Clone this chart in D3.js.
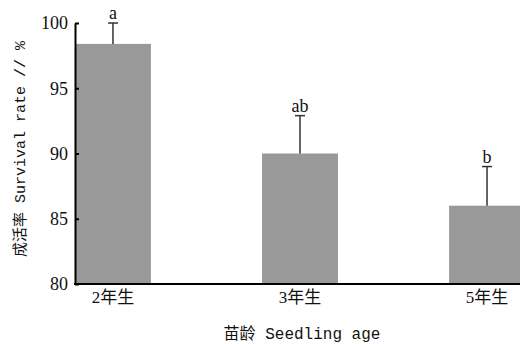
<!DOCTYPE html>
<html>
<head>
<meta charset="utf-8">
<script src="https://cdn.jsdelivr.net/npm/d3@7"></script>
<style>
  body { margin: 0; background: #fff; }
  text { font-family: "Liberation Serif", "Noto Sans CJK SC", serif; fill: #111; }
  .lab { font-family: "Liberation Mono", "Noto Sans CJK SC", monospace; }
</style>
</head>
<body>
<script>
// survival rate by seedling age
var categories = ["2年生", "3年生", "5年生"];
var values = [98.4, 90.0, 86.0];
var errors = [1.6, 2.9, 3.0];
var letters = ["a", "ab", "b"];
var yTicks = [80, 85, 90, 95, 100];

var width = 520, height = 344;

var svg = d3.select("body").append("svg")
    .attr("width", width)
    .attr("height", height);

// scales
var x = d3.scaleBand()
    .domain(categories)
    .range([75, 525])
    .paddingInner(0.594)
    .paddingOuter(0);

var y = d3.scaleLinear()
    .domain([80, 100])
    .range([284, 23]);

// bars
svg.selectAll(".bar")
    .data(values)
    .enter().append("rect")
    .attr("class", "bar")
    .attr("x", function(d, i) { return x(categories[i]); })
    .attr("y", function(d) { return y(d); })
    .attr("width", x.bandwidth())
    .attr("height", function(d) { return y(80) - y(d); })
    .style("fill", "#999999");

// error bars
var eb = svg.selectAll(".err")
    .data(values)
    .enter().append("g")
    .attr("class", "err")
    .style("stroke", "#333")
    .style("stroke-width", 1.5);

eb.append("line")
    .attr("x1", function(d, i) { return x(categories[i]) + x.bandwidth() / 2; })
    .attr("x2", function(d, i) { return x(categories[i]) + x.bandwidth() / 2; })
    .attr("y1", function(d) { return y(d); })
    .attr("y2", function(d, i) { return y(d + errors[i]); });

eb.append("line")
    .attr("x1", function(d, i) { return x(categories[i]) + x.bandwidth() / 2 - 5; })
    .attr("x2", function(d, i) { return x(categories[i]) + x.bandwidth() / 2 + 5; })
    .attr("y1", function(d, i) { return y(d + errors[i]); })
    .attr("y2", function(d, i) { return y(d + errors[i]); });

// significance letters
svg.selectAll(".sig")
    .data(letters)
    .enter().append("text")
    .attr("class", "sig")
    .attr("x", function(d, i) { return x(categories[i]) + x.bandwidth() / 2; })
    .attr("y", function(d, i) { return y(values[i] + errors[i]) - 4; })
    .attr("text-anchor", "middle")
    .style("font-size", "18px")
    .text(function(d) { return d; });

// y axis, ticks pointing inward
var yAxis = svg.append("g")
    .attr("transform", "translate(75,0)")
    .call(d3.axisRight(y).tickValues(yTicks).tickSize(4).tickSizeOuter(0).tickFormat(""));
yAxis.select(".domain").style("stroke", "#000").style("stroke-width", 2);
yAxis.selectAll(".tick line").style("stroke", "#000").style("stroke-width", 2);

svg.selectAll(".ylab")
    .data(yTicks)
    .enter().append("text")
    .attr("class", "ylab")
    .attr("x", 68)
    .attr("y", function(d) { return y(d); })
    .attr("dy", "0.35em")
    .attr("text-anchor", "end")
    .style("font-size", "18px")
    .text(function(d) { return d; });

// x axis
var xAxis = svg.append("g")
    .attr("transform", "translate(0,284)")
    .call(d3.axisBottom(x).tickSize(0).tickPadding(7));
xAxis.select(".domain").attr("d", "M74,0H520").style("stroke", "#000").style("stroke-width", 2);
xAxis.selectAll(".tick text")
    .style("font-family", "'Liberation Serif', 'Noto Sans CJK SC', serif")
    .style("font-size", "17px")
    .style("fill", "#111");

// axis titles
svg.append("text")
    .attr("class", "lab")
    .attr("x", 302)
    .attr("y", 339)
    .attr("text-anchor", "middle")
    .style("font-size", "16px")
    .text("苗龄 Seedling age");

svg.append("text")
    .attr("class", "lab")
    .attr("transform", "translate(25,149) rotate(-90)")
    .attr("text-anchor", "middle")
    .style("font-size", "15px")
    .text("成活率 Survival rate // %");
</script>
</body>
</html>
